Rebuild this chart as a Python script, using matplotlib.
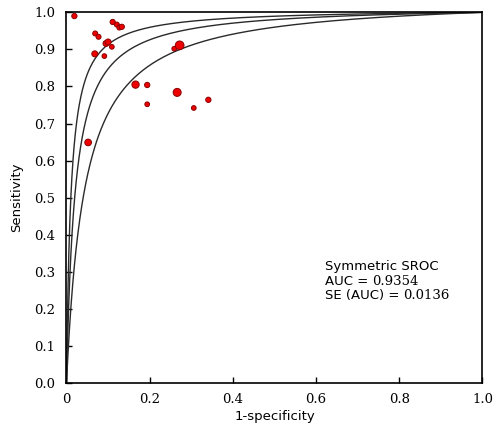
import numpy as np
import matplotlib.pyplot as plt

# study points (1-specificity, sensitivity) and marker diameter (px)
fpr = [0.019, 0.111, 0.121, 0.127, 0.133, 0.069, 0.077, 0.095, 0.100, 0.109,
       0.068, 0.091, 0.259, 0.272, 0.166, 0.194, 0.266, 0.341, 0.194, 0.306, 0.052]
tpr = [0.990, 0.974, 0.967, 0.959, 0.961, 0.943, 0.934, 0.916, 0.920, 0.907,
       0.888, 0.882, 0.902, 0.911, 0.805, 0.804, 0.784, 0.764, 0.752, 0.742, 0.649]
diam = [5.3, 5.2, 5.0, 5.0, 5.2, 5.0, 5.0, 6.0, 6.0, 4.7,
        6.0, 4.7, 4.7, 8.7, 7.3, 5.3, 8.0, 5.3, 4.7, 4.7, 6.7]

# diagnostic odds ratios: lower CI, SROC, upper CI
dors = [24, 50, 95]

xticks = [0, 0.2, 0.4, 0.6, 0.8, 1.0]
xticklabels = ['0', '0.2', '0.4', '0.6', '0.8', '1.0']
yticks = np.round(np.arange(0, 1.01, 0.1), 1)
yticklabels = ['%.1f' % v for v in yticks]

stats_labels = ['AUC = ', 'SE (AUC) = ']
stats_values = ['0.9354', '0.0136']

fig = plt.figure(figsize=(4.97, 4.33), dpi=100)
ax = fig.add_axes([0.1338, 0.1155, 0.837, 0.856])

x = np.concatenate([[0], np.logspace(-5, 0, 600)])
for d in dors:
    y = d * x / (1 - x + d * x)
    ax.plot(x, y, color='#2a2a2a', lw=1.0, zorder=2)

# marker area in pt^2 from pixel diameter
s = [(dd * 0.72) ** 2 for dd in diam]
ax.scatter(fpr, tpr, s=s, c='#ee0000', edgecolors='#8b0000', linewidths=0.7, zorder=3)

ax.set_xlim(0, 1)
ax.set_ylim(0, 1)
ax.set_xticks(xticks)
ax.set_xticklabels(xticklabels, fontfamily='DejaVu Serif', fontsize=9.5)
ax.set_yticks(yticks)
ax.set_yticklabels(yticklabels, fontfamily='DejaVu Serif', fontsize=9.5)
ax.tick_params(direction='in', length=4.5, width=1, color='black')
ax.tick_params(axis='x', pad=7)
ax.tick_params(axis='y', pad=8)
for sp in ax.spines.values():
    sp.set_linewidth(1.2)

ax.set_xlabel('1-specificity', fontsize=9.5, family='DejaVu Sans', labelpad=3)
ax.set_ylabel('Sensitivity', fontsize=9.5, family='DejaVu Sans', labelpad=8)

ax.text(0.621, 0.313, 'Symmetric SROC', fontsize=9.5, va='center', family='DejaVu Sans')
for i, (lab, val) in enumerate(zip(stats_labels, stats_values)):
    t = ax.text(0.621, 0.274 - 0.039 * i, lab, fontsize=9.5, va='center',
                family='DejaVu Sans')
    ax.annotate(val, xy=(1, 0.5), xycoords=t, va='center', ha='left',
                fontsize=9.5, family='DejaVu Serif')

plt.savefig('out.png', dpi=100)
plt.close()
